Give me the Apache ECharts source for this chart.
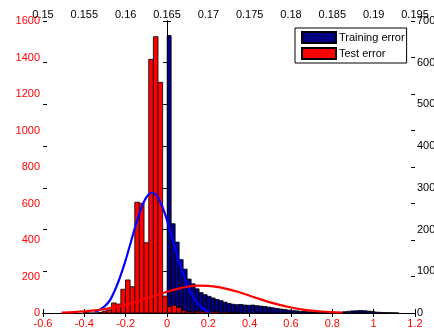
<!DOCTYPE html>
<html>
<head>
<meta charset="utf-8">
<script src="https://cdn.jsdelivr.net/npm/echarts@6/dist/echarts.min.js"></script>
<style>
html,body{margin:0;padding:0;background:#fff;}
#chart{width:434px;height:329px;}
</style>
</head>
<body>
<div id="chart"></div>
<script>
// Test error histogram (bottom x axis / left y axis)
const redBinStart = -0.4035;
const redBinWidth = 0.0225;
const redCounts = [3, 0, 0, 3, 11, 17, 55, 49, 130, 181, 144, 607, 601, 385, 1390, 1514, 1264, 93, 35, 42, 31, 13, 8, 5, 10, 8, 12, 6, 8, 4, 5, 3, 2];

// Training error histogram (top x axis / right y axis)
const blueBinStart = 0.16502;
const blueBinWidth = 0.000483;
const blueCounts = [6650, 2140, 1700, 1280, 1050, 815, 700, 580, 490, 440, 400, 360, 325, 295, 260, 230, 210, 200, 205, 190, 185, 190, 175, 165, 155, 140, 125, 110, 95, 85, 70, 60, 50, 40, 35, 30, 25, 20, 15, 12, 10, 8, 8, 15, 30, 40, 50, 55, 60, 55, 45, 35, 20, 15, 10, 8, 5, 3];

// Fitted curves (bottom x axis / left y axis)
const blueCurveX = [-0.35, -0.325, -0.3, -0.275, -0.25, -0.225, -0.2, -0.175, -0.15, -0.125, -0.1, -0.072, -0.05, -0.025, 0, 0.025, 0.05, 0.075, 0.1, 0.125, 0.15, 0.175, 0.206];
const blueCurveY = [8, 18, 38, 72, 130, 204, 290, 388, 486, 573, 634, 659, 643, 590, 509, 412, 313, 224, 148, 92, 50, 22, 4];
const redCurveX = [-0.51, -0.45, -0.4, -0.35, -0.3, -0.25, -0.2, -0.15, -0.1, -0.05, 0, 0.05, 0.1, 0.15, 0.2, 0.25, 0.3, 0.35, 0.4, 0.45, 0.5, 0.55, 0.6, 0.65, 0.7, 0.75, 0.8, 0.85];
const redCurveY = [2.7, 5.3, 8.9, 14.3, 22, 32.4, 45.7, 61.7, 79.7, 98.6, 116.7, 132.4, 143.8, 149.5, 148.8, 141.9, 129.5, 113.3, 94.8, 76, 58.3, 42.8, 30.1, 20.3, 13.1, 8.1, 4.8, 2.7];

// Axis settings
const bottomTicks = {min: -0.6, max: 1.2, interval: 0.2};
const topTicks = {min: 0.15, max: 0.195, interval: 0.005};
const leftTicks = {min: 0, max: 1600, interval: 200};
const rightTicks = {min: 0, max: 7000, interval: 1000};

const FONT = 'Liberation Sans, Arial, Helvetica, sans-serif';

function bins(start, width, counts) {
  return counts.map((c, i) => [start + i * width, start + (i + 1) * width, c]);
}
function pts(xs, ys) { return xs.map((x, i) => [x, ys[i]]); }

function histItem(params, api) {
  const p0 = api.coord([api.value(0), 0]);
  const p1 = api.coord([api.value(1), api.value(2)]);
  return {
    type: 'rect',
    shape: {x: p0[0], y: p1[1], width: p1[0] - p0[0], height: p0[1] - p1[1]},
    style: api.style()
  };
}

const tickStyle = {inside: true, length: 4, lineStyle: {color: '#000', width: 1}};
const lineStyle = {show: true, lineStyle: {color: '#000', width: 1}};
const fmt3 = v => String(+v.toFixed(3));
const fmt1 = v => String(+v.toFixed(1));
const fmt0 = v => String(Math.round(v));

const chart = echarts.init(document.getElementById('chart'), null, {renderer: 'canvas'});
chart.setOption({
  animation: false,
  backgroundColor: '#fff',
  textStyle: {fontFamily: FONT},
  grid: {left: 43, right: 19, top: 21, bottom: 16, containLabel: false, outerBoundsMode: 'none'},
  legend: {
    data: ['Training error', 'Test error'],
    orient: 'vertical',
    left: 295, top: 28,
    itemWidth: 34, itemHeight: 11, itemGap: 3,
    padding: [3, 2, 3, 6],
    backgroundColor: '#fff',
    borderColor: '#000', borderWidth: 1, borderRadius: 0,
    icon: 'rect',
    textStyle: {fontSize: 11, color: '#000', fontFamily: FONT, padding: [0, 0, 0, -2]}
  },
  xAxis: [
    Object.assign({type: 'value', position: 'bottom', scale: true,
      axisLine: lineStyle, axisTick: tickStyle, splitLine: {show: false},
      axisLabel: {color: '#ff0000', fontSize: 11, margin: 5, formatter: fmt1, showMinLabel: true, showMaxLabel: true}}, bottomTicks),
    Object.assign({type: 'value', position: 'top', scale: true,
      axisLine: lineStyle, axisTick: tickStyle, splitLine: {show: false},
      axisLabel: {color: '#000', fontSize: 11, margin: 1, formatter: fmt3, showMinLabel: true, showMaxLabel: true}}, topTicks),
    Object.assign({type: 'value', position: 'top', scale: true,
      axisLine: {show: false}, axisTick: tickStyle, splitLine: {show: false},
      axisLabel: {show: false}}, bottomTicks),
    Object.assign({type: 'value', position: 'bottom', scale: true,
      axisLine: {show: false}, axisTick: tickStyle, splitLine: {show: false},
      axisLabel: {show: false}}, topTicks)
  ],
  yAxis: [
    Object.assign({type: 'value', position: 'left',
      axisLine: lineStyle, axisTick: tickStyle, splitLine: {show: false},
      axisLabel: {color: '#ff0000', fontSize: 11, margin: 3, formatter: fmt0}}, leftTicks),
    Object.assign({type: 'value', position: 'right',
      axisLine: lineStyle, axisTick: tickStyle, splitLine: {show: false},
      axisLabel: {color: '#000', fontSize: 11, margin: 2, formatter: fmt0}}, rightTicks),
    Object.assign({type: 'value', position: 'right', offset: 0,
      axisLine: {show: false}, axisTick: tickStyle, splitLine: {show: false},
      axisLabel: {show: false}}, leftTicks),
    Object.assign({type: 'value', position: 'left', offset: 0,
      axisLine: {show: false}, axisTick: tickStyle, splitLine: {show: false},
      axisLabel: {show: false}}, rightTicks)
  ],
  series: [
    {
      name: 'Training error', type: 'custom', xAxisIndex: 1, yAxisIndex: 1,
      renderItem: histItem, encode: {x: [0, 1], y: 2},
      itemStyle: {color: '#000080', borderColor: '#000', borderWidth: 0.8},
      data: bins(blueBinStart, blueBinWidth, blueCounts), z: 2, clip: true
    },
    {
      name: 'Test error', type: 'custom', xAxisIndex: 0, yAxisIndex: 0,
      renderItem: histItem, encode: {x: [0, 1], y: 2},
      itemStyle: {color: '#ff0000', borderColor: '#000', borderWidth: 0.8},
      data: bins(redBinStart, redBinWidth, redCounts), z: 3, clip: true
    },
    {
      name: 'fitTrain', type: 'line', xAxisIndex: 0, yAxisIndex: 0,
      data: pts(blueCurveX, blueCurveY), showSymbol: false, smooth: 0.3,
      lineStyle: {color: '#0000ff', width: 2.2}, itemStyle: {color: '#0000ff'}, z: 4
    },
    {
      name: 'fitTest', type: 'line', xAxisIndex: 0, yAxisIndex: 0,
      data: pts(redCurveX, redCurveY), showSymbol: false, smooth: 0.3,
      lineStyle: {color: '#ff0000', width: 2.2}, itemStyle: {color: '#ff0000'}, z: 4
    }
  ]
});
</script>
</body>
</html>
